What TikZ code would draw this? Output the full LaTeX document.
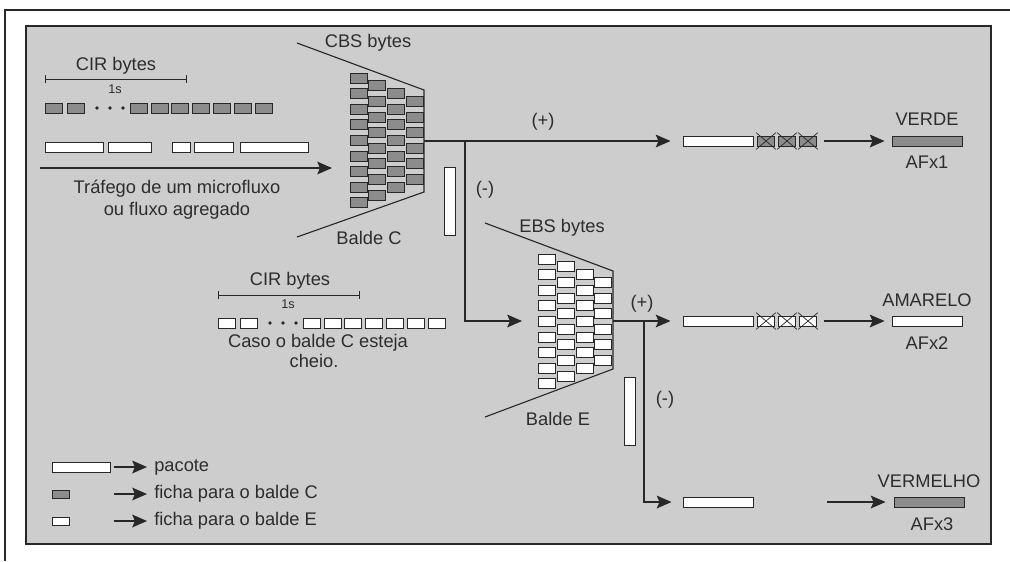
\documentclass[tikz,border=0pt]{standalone}
\usepackage{fontspec}
\setmainfont{Liberation Sans}
\usepackage{tikz}
\usetikzlibrary{arrows.meta, positioning}
\definecolor{panelgray}{RGB}{205, 205, 205}
\definecolor{tokengray}{RGB}{140, 140, 140}
\definecolor{inkdark}{RGB}{40, 40, 40}
\definecolor{textgray}{RGB}{45, 45, 45}

\begin{document}
\begin{tikzpicture}[
        x=0.025cm, y=-0.025cm,
        lbl/.style={inner sep=0, text=textgray, font=\fontsize{13}{15.6}\selectfont, text height=9.5pt, text depth=2.5pt},
        tiny/.style={inner sep=0, text=textgray, font=\fontsize{9}{10}\selectfont},
        pkt/.style={draw=inkdark, fill=white, line width=0.7pt, minimum height=2.5mm, inner sep=0, minimum width=#1*0.25mm},
        tokc/.style={draw=inkdark, fill=tokengray, line width=0.5pt, minimum width=4.25mm, minimum height=2.5mm, inner sep=0},
        toke/.style={tokc, fill=white},
        bar/.style={draw=inkdark, line width=0.6pt, minimum width=17.5mm, minimum height=2.5mm, inner sep=0},
        edge/.style={draw=inkdark, line width=0.8pt},
        cross/.style={draw=inkdark, line width=0.5pt},
        ruler/.style={draw=inkdark, line width=0.6pt, {Bar[width=2mm]}-{Bar[width=2mm]}},
        flow/.style={edge, -{Stealth[length=3.7mm, width=3.2mm, inset=0.7mm]}}
    ]
        \useasboundingbox (0,0) rectangle (1010,561);
        % Frame and panel
        \draw[inkdark, line width=1pt] (5,561) -- (5,10) -- (1010,10);
        \draw[edge, fill=panelgray] (26,26) rectangle (991,544);

        % Traffic and C tokens
        \node[lbl] (cir1) at (116,66) {CIR bytes};
        \draw[ruler] (45,79) -- (187,79);
        \node[tiny] (sec1) at (115,89) {1s};
        \node[tokc] (tc1) at (54,108) {};
        \node[tokc] (tc2) at (75.5,108) {};
        \foreach \x in {97,110,123} \fill[inkdark] (\x,108) circle[radius=1.8];
        \foreach \i in {0,...,6} \node[tokc] (tc-\i) at ({138.5+20.9*\i},108) {};
        \node[pkt=58] (f1) at (74,147) {};
        \node[pkt=43] (f2) at (129.5,147) {};
        \node[pkt=18] (f3) at (181,147) {};
        \node[pkt=39] (f4) at (213.5,147) {};
        \node[pkt=68] (f5) at (274,147) {};
        \coordinate (tin) at (40,168);
        \coordinate (tend) at (332,168);
        \draw[flow] (tin) -- (tend);
        \node[lbl] (traf1) at (177,189) {Tráfego de um microfluxo};
        \node[lbl] (traf2) at (177,211) {ou fluxo agregado};

        % Balde C
        \draw[edge] (297,43) -- (424,90) -- (424,192) -- (297,237);
        \foreach \k in {0,...,3}{
            \pgfmathtruncatemacro{\n}{8-\k}
            \foreach \i in {0,...,\n}
                \node[tokc] (c-\k-\i) at ({358.5+18.7*\k},{78+7.8*\k+15.6*\i}) {};
        }
        \node[lbl] (cbs) at (368,43) {CBS bytes};
        \node[lbl] (bc) at (369,240) {Balde C};
        \coordinate (cout) at (424,141);
        \coordinate (cbr) at (465,141);
        \node[pkt=11, minimum height=17mm] (pcm) at (449.5,201) {};

        % E tokens
        \node[lbl] (cir2) at (290,281) {CIR bytes};
        \draw[ruler] (218,295) -- (360,295);
        \node[tiny] (sec2) at (288,304) {1s};
        \node[toke] (te1) at (227,323) {};
        \node[toke] (te2) at (248.5,323) {};
        \foreach \x in {270,283,296} \fill[inkdark] (\x,323) circle[radius=1.8];
        \foreach \i in {0,...,6} \node[toke] (te-\i) at ({311.5+20.9*\i},323) {};
        \node[lbl] (caso1) at (318,343) {Caso o balde C esteja};
        \node[lbl] (caso2) at (314,363) {cheio.};

        % Balde E
        \draw[edge] (485,223) -- (613,271) -- (613,369) -- (485,417);
        \foreach \k in {0,...,3}{
            \pgfmathtruncatemacro{\n}{8-\k}
            \foreach \i in {0,...,\n}
                \node[toke] (e-\k-\i) at ({547+18.7*\k},{259+7.8*\k+15.6*\i}) {};
        }
        \node[lbl] (ebs) at (562,228) {EBS bytes};
        \node[lbl] (be) at (558,421) {Balde E};
        \coordinate (ein) at (522,321);
        \coordinate (eout) at (613,321);
        \coordinate (ebr) at (644,321);
        \node[pkt=11, minimum height=17mm] (pem) at (629.5,411) {};

        % Output packets
        \node[pkt=70] (pv) at (718,141) {};
        \node[pkt=70] (pa) at (718,321) {};
        \node[pkt=70] (pr) at (718,502) {};
        \foreach \row/\y/\sty in {v/141/tokc, a/321/toke}{
            \foreach \i/\x in {1/766, 2/787, 3/808}{
                \node[\sty] (x\row\i) at (\x,\y) {};
                \draw[cross] ([shift={(-1,-3)}]x\row\i.north west) -- ([shift={(1,3)}]x\row\i.south east)
                    ([shift={(-1,3)}]x\row\i.south west) -- ([shift={(1,-3)}]x\row\i.north east);
            }
        }

        % Results
        \node[bar, fill=tokengray] (verde) at (927,141) {};
        \node[lbl] at (927,121) {VERDE};
        \node[lbl] at (927,164) {AFx1};
        \node[bar, fill=white] (amarelo) at (927,321) {};
        \node[lbl] at (927,302) {AMARELO};
        \node[lbl] at (927,345) {AFx2};
        \node[bar, fill=tokengray] (vermelho) at (929,502) {};
        \node[lbl] at (929,483) {VERMELHO};
        \node[lbl] at (932,526) {AFx3};
        \coordinate (rstart) at (827,502);

        % Connections
        \draw[flow, shorten >=3mm] (cout) -- (pv);
        \node[lbl] (plus1) at (543,122) {(+)};
        \draw[flow] (cbr) |- (ein);
        \node[lbl] (minus1) at (485,190) {(-)};
        \draw[flow, shorten >=3mm] (eout) -- (pa);
        \node[lbl] (plus2) at (642,304) {(+)};
        \draw[flow, shorten >=2.75mm] (ebr) |- (pr);
        \node[lbl] (minus2) at (665,400) {(-)};
        \draw[flow, shorten <=1.75mm, shorten >=1.75mm] (xv3) -- (verde);
        \draw[flow, shorten <=1.75mm, shorten >=1.75mm] (xa3) -- (amarelo);
        \draw[flow, shorten >=2mm] (rstart) -- (vermelho);

        % Legend
        \node[pkt=58] (lp) at (81,467) {};
        \node[tokc, minimum height=2mm] (lc) at (60.5,494) {};
        \node[toke, minimum height=2mm] (le) at (60.5,521) {};
        \node[lbl, anchor=west] (lt1) at (154,467) {pacote};
        \node[lbl, anchor=west] (lt2) at (154,494) {ficha para o balde C};
        \node[lbl, anchor=west] (lt3) at (154,521) {ficha para o balde E};
        \coordinate (lg1) at (114,467);
        \coordinate (lg2) at (114,494);
        \coordinate (lg3) at (114,521);
        \draw[flow, shorten >=1.75mm] (lg1) -- (lt1);
        \draw[flow, shorten >=1.75mm] (lg2) -- (lt2);
        \draw[flow, shorten >=1.75mm] (lg3) -- (lt3);
    \end{tikzpicture}
\end{document}
